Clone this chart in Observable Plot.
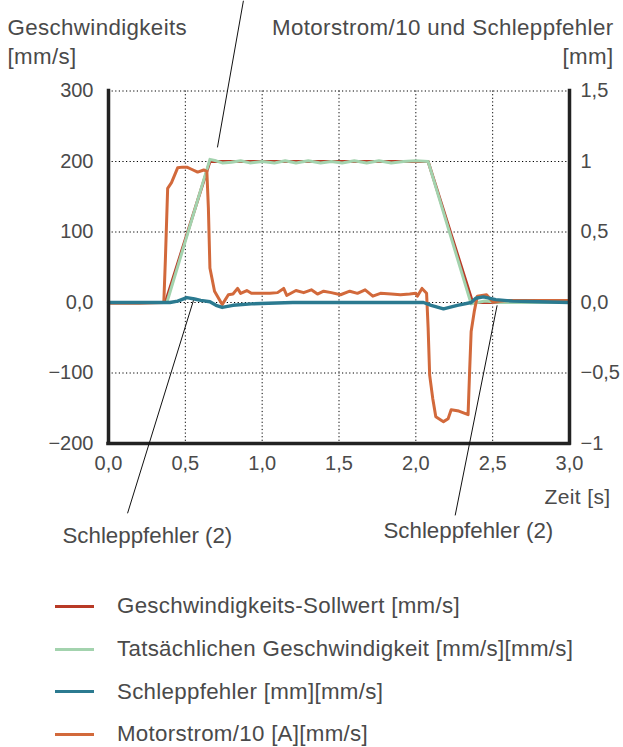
<!DOCTYPE html>
<html>
<head>
<meta charset="utf-8">
<script src="https://cdn.jsdelivr.net/npm/d3@7"></script>
<script src="https://cdn.jsdelivr.net/npm/@observablehq/plot@0.6"></script>
<style>
  body { margin: 0; background: #fff; font-family: "Liberation Sans", Arial, sans-serif; }
  #chart svg { overflow: visible; display: block; }
  #chart svg g[aria-label="text"] text { letter-spacing: 0.38px; }
  #legend { margin-top: 25px; }
  .row { height: 42.7px; display: flex; align-items: center; color: #4a4a4a; font-size: 22.3px; letter-spacing: 0.3px; }
  .sw { width: 39px; height: 3px; margin-left: 55px; margin-right: 23px; }
</style>
</head>
<body>
<div id="chart"></div>
<div id="legend"></div>
<script>
// ---- data (time [s], value) ----
const sollwert = [[0,0],[0.37,0],[0.66,200],[2.08,200],[2.37,0],[3.0,0]];
const istGeschw = [[0,0],[0.38,0],[0.66,203],[0.70,201],[0.74,198],[0.80,199],[0.86,201],[0.92,198],[1.0,200],[1.08,198],[1.15,201],[1.22,198],[1.30,201],[1.38,198],[1.45,200],[1.52,198],[1.60,201],[1.68,198],[1.76,201],[1.84,198],[1.92,200],[2.0,201],[2.08,200],[2.36,-2],[2.40,0],[2.45,2],[2.55,0],[3.0,0]];
const motorstrom = [[0,-1],[0.2,-1],[0.36,0],[0.37,60],[0.385,162],[0.41,170],[0.45,191],[0.48,192],[0.51,192],[0.54,189],[0.58,185],[0.62,188],[0.64,186],[0.65,134],[0.66,49],[0.69,16],[0.74,-3],[0.78,11],[0.81,12],[0.84,20],[0.86,13],[0.90,17],[0.93,13],[0.99,13],[1.05,13],[1.10,14],[1.14,20],[1.16,10],[1.22,17],[1.27,14],[1.32,18],[1.36,12],[1.40,16],[1.45,14],[1.51,11],[1.57,16],[1.62,13],[1.67,18],[1.72,9],[1.77,13],[1.84,12],[1.90,11],[1.96,12],[2.00,13],[2.01,9],[2.04,20],[2.07,13],[2.08,-36],[2.09,-103],[2.11,-136],[2.13,-162],[2.18,-169],[2.21,-165],[2.23,-152],[2.28,-154],[2.34,-159],[2.35,-98],[2.36,-41],[2.38,-13],[2.40,9],[2.46,11],[2.50,1],[2.60,3],[3.0,3]];
const schleppfehler = [[0,0],[0.40,0],[0.45,0.01],[0.51,0.035],[0.56,0.025],[0.60,0.015],[0.66,0.005],[0.70,-0.02],[0.74,-0.035],[0.81,-0.02],[0.93,-0.01],[1.04,-0.005],[1.2,0],[2.05,0],[2.10,-0.02],[2.18,-0.045],[2.27,-0.02],[2.36,0],[2.39,0.03],[2.44,0.04],[2.52,0.02],[2.63,0.01],[2.8,0.005],[3.0,0]];

const xTicks = [0, 0.5, 1, 1.5, 2, 2.5, 3];
const xLabels = ["0,0","0,5","1,0","1,5","2,0","2,5","3,0"];
const yTicks = [-200, -100, 0, 100, 200, 300];
const yLabelsLeft = ["−200","−100","0,0","100","200","300"];
const yLabelsRight = ["−1","−0,5","0,0","0,5","1","1,5"];
const mmFactor = 200; // 1 mm on right axis = 200 on left axis

const series = [
  {name: "Geschwindigkeits-Sollwert [mm/s]", color: "#b83a26"},
  {name: "Tatsächlichen Geschwindigkeit [mm/s][mm/s]", color: "#a3d3ae"},
  {name: "Schleppfehler [mm][mm/s]", color: "#2b7a90"},
  {name: "Motorstrom/10 [A][mm/s]", color: "#d2693b"}
];

// leader lines for annotations (data coordinates)
const leaders = [
  {x1: 0.878, y1: 428, x2: 0.709, y2: 220},
  {x1: 0.124, y1: -299, x2: 0.553, y2: 3},
  {x1: 2.256, y1: -302, x2: 2.529, y2: -4}
];
const annotationText = "Schleppfehler (2)";

const textColor = "#4a4a4a";
const grid = {stroke: "#000", strokeWidth: 1, strokeDasharray: "1.2,2.4"};

const chart = Plot.plot({
  width: 623,
  height: 560,
  marginLeft: 108,
  marginRight: 54,
  marginTop: 90.5,
  marginBottom: 117,
  x: {domain: [0, 3]},
  y: {domain: [-200, 300]},
  style: {fontFamily: '"Liberation Sans", Arial, sans-serif', fontSize: "20px", color: textColor, background: "#fff"},
  marks: [
    Plot.ruleX([0.5, 1, 1.5, 2, 2.5], grid),
    Plot.ruleY([-100, 0, 100, 200, 300], grid),
    Plot.line(sollwert, {x: d => d[0], y: d => d[1], stroke: series[0].color, strokeWidth: 3}),
    Plot.line(istGeschw, {x: d => d[0], y: d => d[1], stroke: series[1].color, strokeWidth: 3}),
    Plot.line(motorstrom, {x: d => d[0], y: d => d[1], stroke: series[3].color, strokeWidth: 3}),
    Plot.line(schleppfehler, {x: d => d[0], y: d => d[1] * mmFactor, stroke: series[2].color, strokeWidth: 3.4}),
    Plot.ruleX([0, 3], {stroke: "#222", strokeWidth: 3.5, strokeLinecap: "square"}),
    Plot.ruleY([-200], {stroke: "#222", strokeWidth: 3.5, strokeLinecap: "square"}),
    Plot.axisX(xTicks, {tickSize: 0, tickPadding: 12, tickFormat: (d, i) => xLabels[i], label: null, fontSize: 20, fill: textColor}),
    Plot.axisY(yTicks, {anchor: "left", tickSize: 0, tickPadding: 15, tickFormat: (d, i) => yLabelsLeft[i], label: null, fontSize: 20, fill: textColor}),
    Plot.axisY(yTicks, {anchor: "right", tickSize: 0, tickPadding: 11, tickFormat: (d, i) => yLabelsRight[i], label: null, fontSize: 20, fill: textColor}),
    Plot.link(leaders, {x1: "x1", y1: "y1", x2: "x2", y2: "y2", stroke: "#111", strokeWidth: 1, clip: false}),
    Plot.text(["Geschwindigkeits"], {frameAnchor: "top-left", dx: -101, dy: -63, textAnchor: "start", lineAnchor: "middle", fontSize: 22.3, fill: textColor}),
    Plot.text(["[mm/s]"], {frameAnchor: "top-left", dx: -101, dy: -34, textAnchor: "start", lineAnchor: "middle", fontSize: 22.3, fill: textColor}),
    Plot.text(["Motorstrom/10 und Schleppfehler"], {frameAnchor: "top-right", dx: 44, dy: -63, textAnchor: "end", lineAnchor: "middle", fontSize: 22.3, fill: textColor}),
    Plot.text(["[mm]"], {frameAnchor: "top-right", dx: 44, dy: -34, textAnchor: "end", lineAnchor: "middle", fontSize: 22.3, fill: textColor}),
    Plot.text(["Zeit [s]"], {frameAnchor: "bottom-right", dx: 41, dy: 54, textAnchor: "end", lineAnchor: "middle", fontSize: 21, fill: textColor}),
    Plot.text([annotationText], {frameAnchor: "bottom-left", dx: -46, dy: 92, textAnchor: "start", lineAnchor: "middle", fontSize: 22.3, fill: textColor}),
    Plot.text([annotationText], {frameAnchor: "bottom-left", dx: 275, dy: 87, textAnchor: "start", lineAnchor: "middle", fontSize: 22.3, fill: textColor})
  ]
});
d3.select(chart).selectAll('g[aria-label="text"] text')
  .filter(function() { return this.textContent === annotationText; })
  .style("letter-spacing", "0px");
document.getElementById("chart").appendChild(chart);

const legend = document.getElementById("legend");
for (const s of series) {
  const row = document.createElement("div");
  row.className = "row";
  const sw = document.createElement("div");
  sw.className = "sw";
  sw.style.background = s.color;
  const label = document.createElement("span");
  label.textContent = s.name;
  row.appendChild(sw);
  row.appendChild(label);
  legend.appendChild(row);
}
</script>
</body>
</html>
